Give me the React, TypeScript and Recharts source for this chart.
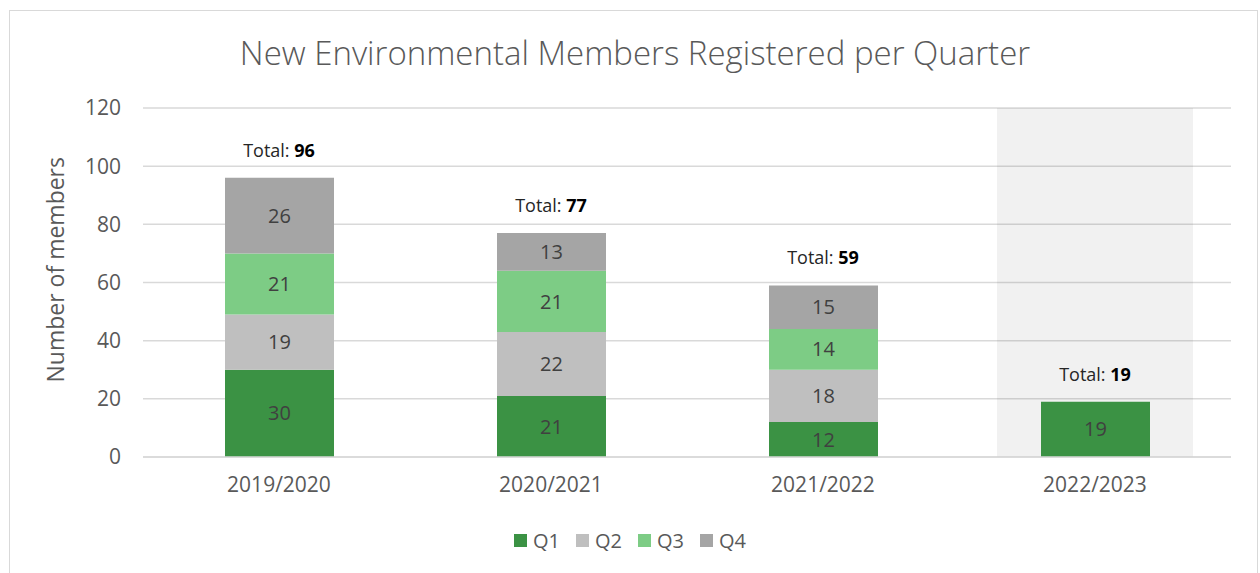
import {
	BarChart,
	Bar,
	Line,
	XAxis,
	YAxis,
	CartesianGrid,
	Legend,
	LabelList,
} from "recharts";

const years = ["2019/2020", "2020/2021", "2021/2022", "2022/2023"];
const q1 = [30, 21, 12, 19];
const q2 = [19, 22, 18, null];
const q3 = [21, 21, 14, null];
const q4 = [26, 13, 15, null];
// shaded band marking the year still in progress
const band = [null, null, null, 120];
const yTicks = [0, 20, 40, 60, 80, 100, 120];

const series = [
	{ key: "Q1", color: "#3b9244" },
	{ key: "Q2", color: "#bfbfbf" },
	{ key: "Q3", color: "#7dcc85" },
	{ key: "Q4", color: "#a5a5a5" },
];

const data = years.map((year, i) => ({
	year,
	Q1: q1[i],
	Q2: q2[i],
	Q3: q3[i],
	Q4: q4[i],
	band: band[i],
	total: (q1[i] ?? 0) + (q2[i] ?? 0) + (q3[i] ?? 0) + (q4[i] ?? 0),
}));

const FONT = "'Open Sans', 'Noto Sans', sans-serif";

const TotalLabel = (props: any) => {
	const { x, y, value } = props;
	return (
		<text
			x={x}
			y={y - 28}
			textAnchor="middle"
			dominantBaseline="central"
			style={{ fontFamily: FONT, fontSize: 18 }}
		>
			<tspan fill="#262626">Total: </tspan>
			<tspan fill="#000" fontWeight={700}>
				{value}
			</tspan>
		</text>
	);
};

const LegendContent = () => (
	<div
		style={{
			display: "flex",
			justifyContent: "center",
			gap: 16,
			fontFamily: FONT,
			fontSize: 20,
			color: "#595959",
		}}
	>
		{series.map((s) => (
			<div key={s.key} style={{ display: "flex", alignItems: "center", gap: 6 }}>
				<span style={{ width: 13, height: 13, background: s.color, display: "inline-block" }} />
				<span>{s.key}</span>
			</div>
		))}
	</div>
);

const App = () => {
	return (
		<div style={{ position: "absolute", left: 0, top: 0, width: 1260, height: 573, background: "#fff", overflow: "hidden" }}>
			<div
				style={{
					position: "absolute",
					left: 9,
					top: 10,
					width: 1247,
					height: 600,
					border: "1px solid #d9d9d9",
				}}
			/>
			<div
				style={{
					position: "absolute",
					left: 0,
					width: 1270,
					top: 30,
					textAlign: "center",
					fontFamily: FONT,
					fontWeight: 300,
					fontSize: 33,
					color: "#595959",
				}}
			>
				New Environmental Members Registered per Quarter
			</div>
			<BarChart
				width={1260}
				height={573}
				data={data}
				margin={{ top: 108, right: 29, bottom: 59, left: 43 }}
				style={{ position: "absolute", left: 0, top: 0 }}
			>
				<CartesianGrid vertical={false} stroke="#d9d9d9" strokeWidth={1.5} />
				<XAxis
					dataKey="year"
					stroke="#d9d9d9"
					strokeWidth={1.5}
					tickLine={false}
					tickMargin={14}
					tick={{ fill: "#595959", fontSize: 21, fontFamily: FONT }}
				/>
				<XAxis dataKey="year" xAxisId="band" hide />
				<YAxis
					width={100}
					domain={[0, 120]}
					ticks={yTicks}
					axisLine={false}
					tickLine={false}
					tickMargin={16}
					tick={{ fill: "#595959", fontSize: 21, fontFamily: FONT }}
					label={{
						value: "Number of members",
						angle: -90,
						position: "insideLeft",
						dx: 8,
						dy: 100,
						style: { fill: "#595959", fontSize: 23, fontFamily: FONT },
					}}
				/>
				<Bar
					dataKey="band"
					xAxisId="band"
					barSize={196}
					fill="#000"
					fillOpacity={0.055}
					isAnimationActive={false}
					legendType="none"
				/>
				{series.map((s) => (
					<Bar
						key={s.key}
						dataKey={s.key}
						stackId="a"
						barSize={109}
						fill={s.color}
						isAnimationActive={false}
					>
						<LabelList
							dataKey={s.key}
							position="center"
							fill="#404040"
							style={{ fontSize: 20, fontFamily: FONT }}
						/>
					</Bar>
				))}
				<Line
					dataKey="total"
					stroke="none"
					dot={false}
					activeDot={false}
					isAnimationActive={false}
					legendType="none"
					label={<TotalLabel />}
				/>
				<Legend
					content={<LegendContent />}
					wrapperStyle={{ position: "absolute", left: 0, width: 1260, top: 527 }}
				/>
			</BarChart>
		</div>
	);
};

export default App;
